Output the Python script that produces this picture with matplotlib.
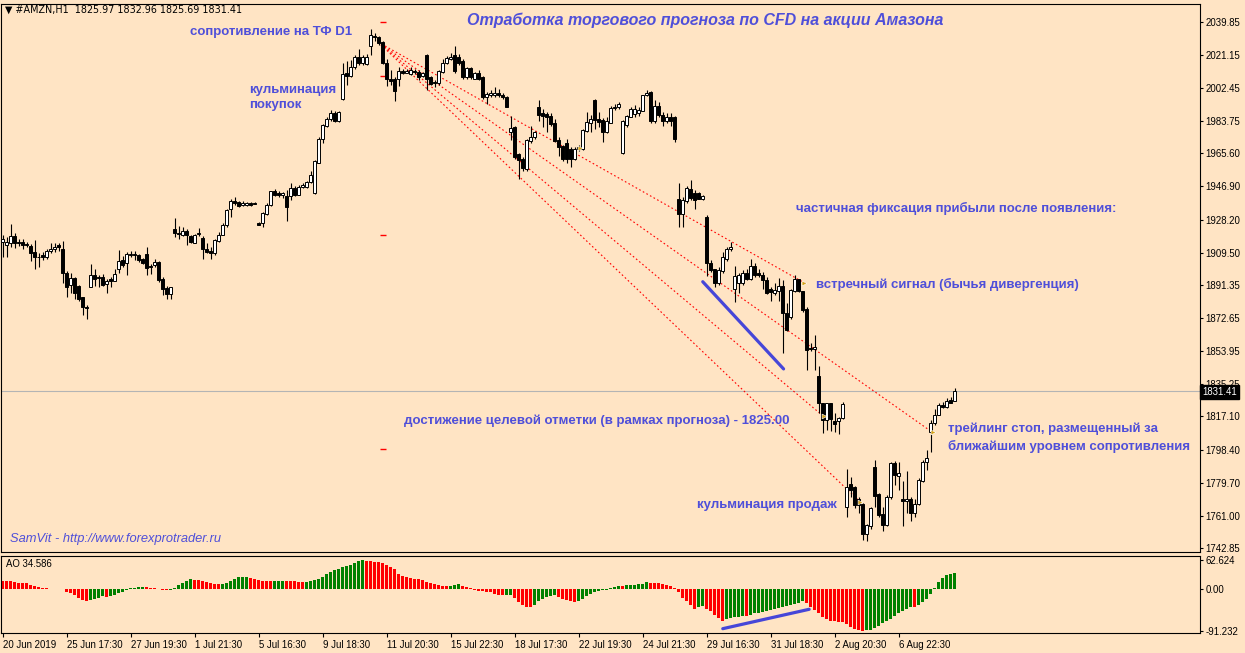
import matplotlib
matplotlib.use('Agg')
import matplotlib.pyplot as plt
import numpy as np

# H1 bars, AMZN CFD, 20 Jun - 8 Aug 2019
opens = [1915.5, 1913.6, 1915.1, 1918.9, 1915.7, 1915.5, 1914.4, 1913.3, 1909.9, 1907.2,
         1908.4, 1906.9, 1910.2, 1911.4, 1913.6, 1911.4, 1897.8, 1891.1, 1895.2, 1890.7,
         1884.7, 1879.0, 1890.3, 1896.9, 1895.6, 1895.6, 1891.6, 1894.4, 1893.7, 1900.5,
         1905.4, 1903.5, 1908.0, 1908.7, 1908.2, 1905.9, 1908.6, 1902.0, 1902.3, 1904.2,
         1894.8, 1889.6, 1886.2, 1922.7, 1920.8, 1919.7, 1921.9, 1918.9, 1915.1, 1920.0,
         1917.8, 1911.8, 1910.6, 1909.5, 1916.3, 1919.7, 1924.9, 1934.3, 1938.5, 1938.1,
         1936.2, 1936.2, 1937.3, 1937.3, 1926.4, 1926.1, 1931.3, 1936.2, 1944.1, 1943.0,
         1942.0, 1941.5, 1941.5, 1946.0, 1942.2, 1946.7, 1946.4, 1949.4, 1943.0, 1960.3,
         1973.5, 1981.0, 1984.7, 1988.5, 1983.6, 1996.0, 2011.1, 2009.2, 2014.1, 2020.1,
         2016.3, 2016.0, 2026.1, 2031.8, 2031.0, 2028.4, 2016.7, 2007.7, 2007.3, 2007.3,
         2011.8, 2011.1, 2010.3, 2012.2, 2011.4, 2009.2, 2021.2, 2008.4, 2005.8, 2005.4,
         2011.5, 2016.7, 2019.0, 2020.9, 2020.1, 2017.5, 2008.4, 2013.7, 2007.7, 2010.7,
         2008.4, 1997.6, 1998.3, 1998.3, 1999.4, 1998.7, 1997.6, 1977.6, 1980.6, 1965.2,
         1962.6, 1956.6, 1972.4, 1974.6, 1991.5, 1988.5, 1987.8, 1986.6, 1982.9, 1973.1,
         1969.7, 1971.6, 1968.2, 1962.6, 1967.8, 1968.2, 1978.4, 1982.9, 1995.7, 1984.8,
         1984.4, 1977.3, 1982.9, 1991.2, 1991.5, 1966.0, 1981.8, 1986.3, 1988.0, 1988.2,
         1989.7, 1998.3, 2000.2, 1983.6, 1992.3, 1987.4, 1983.6, 1986.3, 1986.3, 1939.6,
         1931.4, 1938.8, 1945.6, 1943.4, 1943.0, 1940.0, 1929.9, 1903.9, 1900.2, 1892.2,
         1899.0, 1905.7, 1911.4, 1889.2, 1892.6, 1892.6, 1898.2, 1894.8, 1902.0, 1898.2,
         1897.1, 1894.1, 1888.8, 1886.9, 1888.1, 1890.7, 1875.7, 1873.0, 1888.1, 1894.5,
         1887.7, 1877.9, 1855.7, 1855.3, 1839.9, 1824.5, 1815.1, 1824.5, 1814.7, 1814.3,
         1816.2, 1765.8, 1779.0, 1777.1, 1770.7, 1767.7, 1750.8, 1755.3, 1788.7, 1773.3,
         1762.0, 1756.0, 1771.4, 1790.6, 1783.5, 1770.7, 1769.6, 1770.7, 1762.4, 1767.7,
         1780.8, 1791.4, 1808.3, 1813.2, 1818.1, 1823.7, 1822.2, 1826.4, 1825.97]
highs = [1919.5, 1918.1, 1925.7, 1920.4, 1917.4, 1917.0, 1915.5, 1914.4, 1916.6, 1909.5,
         1910.1, 1911.4, 1914.8, 1914.8, 1914.8, 1916.1, 1899.3, 1897.8, 1896.0, 1891.2,
         1884.7, 1880.0, 1903.1, 1900.3, 1896.9, 1897.3, 1894.8, 1895.6, 1900.5, 1911.0,
         1907.6, 1910.1, 1910.6, 1910.2, 1908.7, 1906.7, 1912.5, 1903.1, 1905.7, 1904.6,
         1895.6, 1890.7, 1890.3, 1929.1, 1924.5, 1924.2, 1922.7, 1919.7, 1920.0, 1923.2,
         1918.9, 1915.1, 1912.9, 1917.0, 1921.3, 1926.4, 1934.3, 1940.0, 1941.1, 1938.8,
         1938.8, 1938.3, 1938.1, 1938.1, 1927.0, 1932.6, 1937.7, 1944.5, 1945.2, 1944.5,
         1943.7, 1944.9, 1949.0, 1947.1, 1947.9, 1949.0, 1949.8, 1955.4, 1961.8, 1974.6,
         1982.1, 1985.9, 1990.0, 1989.6, 1989.3, 2016.3, 2017.5, 2018.2, 2020.9, 2024.2,
         2021.2, 2021.6, 2035.5, 2033.3, 2031.8, 2029.1, 2018.6, 2012.6, 2008.8, 2014.1,
         2013.3, 2013.0, 2014.1, 2013.3, 2012.6, 2011.4, 2021.6, 2009.2, 2006.9, 2012.6,
         2019.0, 2020.5, 2022.4, 2026.1, 2021.6, 2018.6, 2014.5, 2014.5, 2011.4, 2012.6,
         2009.2, 2000.2, 2001.3, 2002.8, 2001.7, 1999.4, 1997.9, 1986.6, 1981.0, 1966.0,
         1963.7, 1973.9, 1981.0, 1978.4, 1995.7, 1990.4, 1988.9, 1988.2, 1984.8, 1975.0,
         1970.1, 1973.9, 1969.3, 1969.3, 1970.1, 1979.1, 1988.9, 1987.4, 1996.1, 1988.9,
         1985.2, 1985.9, 1992.3, 1993.4, 1994.6, 1984.4, 1987.4, 1991.9, 1992.7, 1991.9,
         1998.7, 2001.3, 2000.6, 1995.7, 1994.6, 1988.9, 1988.2, 1988.2, 1986.6, 1948.6,
         1940.7, 1947.1, 1950.5, 1944.9, 1943.8, 1942.3, 1930.6, 1905.4, 1900.5, 1901.3,
         1909.6, 1912.5, 1915.5, 1902.0, 1898.2, 1899.7, 1900.5, 1906.1, 1903.5, 1900.1,
         1898.6, 1895.6, 1890.3, 1892.2, 1895.2, 1894.1, 1880.9, 1889.2, 1897.1, 1894.8,
         1888.1, 1878.7, 1858.3, 1862.9, 1845.6, 1824.9, 1824.9, 1824.9, 1819.2, 1817.0,
         1825.2, 1787.2, 1782.7, 1777.8, 1771.8, 1768.4, 1756.4, 1766.2, 1792.5, 1774.1,
         1766.2, 1772.6, 1791.4, 1792.1, 1791.4, 1780.8, 1786.1, 1771.8, 1770.3, 1782.4,
         1792.5, 1798.2, 1815.1, 1821.5, 1824.5, 1825.2, 1827.5, 1827.9, 1832.96]
lows = [1907.2, 1907.2, 1912.5, 1911.9, 1913.3, 1911.4, 1912.9, 1905.0, 1900.5, 1901.6,
        1905.4, 1906.1, 1909.5, 1909.9, 1910.6, 1892.2, 1884.3, 1886.5, 1883.5, 1882.4,
        1874.1, 1871.9, 1890.3, 1890.7, 1889.9, 1890.7, 1886.5, 1889.9, 1893.7, 1898.2,
        1901.2, 1897.1, 1907.2, 1905.4, 1904.4, 1903.1, 1897.1, 1897.5, 1901.2, 1892.9,
        1885.4, 1883.5, 1883.5, 1918.5, 1917.4, 1918.9, 1913.6, 1914.8, 1914.8, 1918.9,
        1905.7, 1909.5, 1906.1, 1908.0, 1915.5, 1919.3, 1924.2, 1929.4, 1936.6, 1935.1,
        1935.8, 1935.8, 1935.8, 1936.8, 1924.9, 1924.2, 1930.6, 1935.8, 1941.5, 1941.1,
        1940.4, 1927.6, 1939.2, 1941.5, 1941.9, 1946.0, 1946.0, 1948.6, 1942.6, 1959.9,
        1971.6, 1980.6, 1984.0, 1983.2, 1983.2, 1995.7, 2003.9, 2008.8, 2013.3, 2015.2,
        2015.6, 2015.2, 2020.9, 2028.8, 2026.5, 2016.0, 2003.6, 2003.9, 1994.9, 2003.6,
        2010.3, 2010.7, 2009.6, 2010.3, 2006.9, 2008.8, 2001.3, 2003.9, 2003.2, 2004.3,
        2011.1, 2016.0, 2018.2, 2010.7, 2015.2, 2007.3, 2007.7, 2007.3, 2007.3, 2006.9,
        1996.4, 1993.4, 1997.6, 1997.6, 1997.2, 1996.4, 1991.5, 1973.1, 1962.2, 1950.9,
        1955.8, 1955.8, 1971.2, 1973.9, 1984.0, 1980.6, 1977.6, 1981.0, 1972.0, 1964.1,
        1961.1, 1960.3, 1957.7, 1961.8, 1967.0, 1967.5, 1977.6, 1977.3, 1979.5, 1980.6,
        1972.0, 1976.9, 1982.5, 1990.0, 1990.8, 1965.2, 1980.6, 1985.9, 1986.3, 1986.6,
        1989.3, 1997.9, 1982.9, 1982.9, 1985.9, 1981.0, 1982.5, 1981.0, 1972.0, 1923.8,
        1923.8, 1937.3, 1939.2, 1934.4, 1939.6, 1939.2, 1896.4, 1898.6, 1890.0, 1891.5,
        1898.2, 1905.0, 1910.6, 1881.7, 1886.9, 1891.5, 1894.1, 1894.1, 1896.0, 1896.0,
        1889.2, 1886.2, 1882.4, 1885.4, 1882.4, 1853.1, 1865.1, 1872.3, 1887.3, 1887.3,
        1876.0, 1843.3, 1854.2, 1843.3, 1819.2, 1807.9, 1809.4, 1809.1, 1808.3, 1807.2,
        1815.8, 1760.2, 1771.8, 1765.4, 1762.4, 1747.4, 1747.0, 1753.8, 1766.0, 1760.2,
        1752.3, 1755.3, 1770.7, 1778.6, 1775.6, 1755.3, 1762.8, 1757.9, 1760.5, 1766.9,
        1780.1, 1786.9, 1797.0, 1812.4, 1817.7, 1821.9, 1821.9, 1824.5, 1825.69]
closes = [1917.0, 1915.5, 1918.9, 1915.1, 1914.8, 1913.8, 1913.8, 1909.1, 1907.2, 1906.9,
          1906.9, 1910.6, 1911.8, 1912.9, 1912.5, 1898.2, 1889.9, 1895.2, 1886.9, 1883.5,
          1879.0, 1878.1, 1897.1, 1894.8, 1895.0, 1891.1, 1893.5, 1893.7, 1897.5, 1904.6,
          1902.7, 1908.7, 1908.7, 1908.0, 1905.4, 1903.5, 1901.0, 1901.2, 1904.2, 1894.1,
          1889.2, 1886.2, 1889.9, 1920.4, 1920.0, 1921.9, 1919.3, 1915.5, 1919.7, 1920.8,
          1911.4, 1909.9, 1909.1, 1916.6, 1919.3, 1924.9, 1933.6, 1938.5, 1937.7, 1935.8,
          1937.7, 1937.3, 1936.4, 1936.8, 1925.3, 1932.1, 1936.2, 1944.1, 1942.2, 1942.2,
          1943.0, 1935.1, 1946.0, 1942.2, 1946.7, 1947.9, 1949.4, 1953.1, 1961.4, 1973.8,
          1981.4, 1984.7, 1988.1, 1984.0, 1988.9, 2010.3, 2009.2, 2014.1, 2020.1, 2016.7,
          2019.7, 2020.1, 2032.1, 2031.0, 2028.0, 2016.7, 2007.3, 2006.6, 2000.9, 2011.8,
          2011.1, 2011.8, 2012.6, 2011.4, 2008.4, 2010.7, 2007.7, 2004.7, 2005.1, 2011.8,
          2016.3, 2019.4, 2020.1, 2011.8, 2016.7, 2008.4, 2013.7, 2008.4, 2010.7, 2007.7,
          1997.5, 1999.1, 1999.8, 1999.8, 1998.7, 1997.2, 1991.9, 1979.9, 1963.3, 1961.8,
          1957.3, 1973.1, 1975.0, 1977.3, 1987.4, 1986.6, 1986.3, 1982.1, 1972.7, 1969.0,
          1962.2, 1962.6, 1962.6, 1967.8, 1969.0, 1978.8, 1983.3, 1984.8, 1984.4, 1983.3,
          1977.3, 1983.6, 1991.2, 1991.9, 1993.4, 1983.6, 1986.6, 1990.4, 1990.4, 1990.0,
          1998.3, 1999.8, 1983.6, 1992.3, 1987.0, 1983.6, 1986.3, 1983.6, 1973.5, 1931.4,
          1939.2, 1946.0, 1940.4, 1939.2, 1940.0, 1941.5, 1903.5, 1899.8, 1892.2, 1899.8,
          1907.3, 1911.4, 1912.5, 1896.3, 1896.7, 1897.8, 1894.8, 1902.0, 1896.7, 1897.1,
          1894.1, 1886.9, 1887.3, 1888.4, 1890.7, 1875.7, 1865.9, 1888.4, 1894.5, 1888.1,
          1877.2, 1854.6, 1855.3, 1856.1, 1824.5, 1815.1, 1824.5, 1815.5, 1812.8, 1816.2,
          1824.1, 1777.5, 1775.6, 1766.9, 1766.9, 1750.8, 1755.6, 1765.4, 1772.0, 1761.7,
          1756.0, 1771.8, 1790.6, 1783.9, 1785.4, 1769.6, 1770.7, 1762.4, 1767.7, 1781.2,
          1791.4, 1793.6, 1813.6, 1817.7, 1823.4, 1822.6, 1825.6, 1824.9, 1831.41]

# Awesome Oscillator, one value per bar
ao = [17.5, 17.2, 16.9, 15.4, 12.4, 12.0, 11.7, 8.0, 5.1, 3.6,
      2.2, 0.8, 0.3, 0.1, 0.4, 0.6, -6.6, -9.5, -13.9, -19.7,
      -24.1, -25.6, -24.8, -22.6, -19.7, -16.1, -16.8, -14.6, -12.4, -9.5,
      -6.6, -3.6, 0.7, 2.2, 2.9, 3.6, 2.9, 2.2, 0.8, -1.5,
      -2.9, -3.6, -2.2, 1.5, 7.3, 12.4, 17.5, 21.2, 19.7, 18.2,
      16.8, 13.9, 12.4, 10.9, 9.5, 10.2, 13.1, 17.5, 21.9, 24.8,
      25.6, 26.3, 24.1, 21.2, 18.2, 16.8, 16.4, 16.1, 16.5, 17.2,
      17.5, 17.2, 16.8, 16.1, 14.6, 14.2, 15.3, 17.5, 19.0, 21.9,
      26.3, 32.1, 36.5, 40.9, 43.8, 46.7, 49.6, 52.6, 55.5, 60.0,
      62.624, 61.3, 61.0, 59.1, 57.7, 56.2, 52.6, 46.7, 42.3, 32.1,
      27.7, 24.8, 23.4, 21.9, 21.5, 18.2, 15.3, 12.4, 9.5, 8.0,
      6.6, 5.1, 6.6, 8.0, 9.5, 6.6, 3.6, 2.2, -2.2, -5.1,
      -5.5, -6.6, -8.0, -10.9, -12.4, -13.9, -13.1, -12.8, -19.7, -28.5,
      -35.8, -38.7, -39.1, -35.8, -27.0, -22.6, -18.2, -15.3, -13.9, -16.8,
      -21.2, -24.1, -27.0, -28.5, -25.6, -21.2, -15.3, -10.9, -8.0, -5.1,
      -3.6, -2.2, 0.7, 3.6, 6.6, 5.8, 7.3, 7.6, 8.0, 9.5,
      10.9, 13.9, 12.4, 12.0, 11.7, 9.5, 8.0, 6.6, 2.2, -8.0,
      -19.7, -27.0, -34.3, -43.1, -40.2, -37.2, -43.1, -48.9, -56.2, -63.5,
      -69.4, -66.4, -63.5, -62.1, -60.6, -58.4, -59.1, -56.2, -53.3, -51.8,
      -50.4, -47.5, -46.0, -43.1, -41.6, -38.7, -37.2, -34.3, -32.9, -29.9,
      -27.0, -31.4, -38.7, -46.0, -53.3, -60.6, -66.4, -69.4, -70.8, -71.5,
      -72.3, -76.6, -82.5, -86.9, -89.8, -91.232, -90.5, -89.8, -85.4, -81.0,
      -75.2, -69.4, -65.0, -59.1, -53.3, -47.5, -43.1, -38.7, -40.2, -35.0,
      -29.2, -21.9, -11.7, 1.5, 14.6, 23.4, 29.2, 32.1, 34.586]

time_labels = ['20 Jun 2019', '25 Jun 17:30', '27 Jun 19:30', '1 Jul 21:30', '5 Jul 16:30',
               '9 Jul 18:30', '11 Jul 20:30', '15 Jul 22:30', '18 Jul 17:30', '22 Jul 19:30',
               '24 Jul 21:30', '29 Jul 16:30', '31 Jul 18:30', '2 Aug 20:30', '6 Aug 22:30']
time_label_bars = [0, 16, 32, 48, 64, 80, 96, 112, 128, 144, 160, 176, 192, 208, 224]

price_ticks = [2039.85, 2021.15, 2002.45, 1983.75, 1965.60, 1946.90, 1928.20, 1909.50,
               1891.35, 1872.65, 1853.95, 1835.25, 1817.10, 1798.40, 1779.70, 1761.00, 1742.85]
ao_ticks = [62.624, 0.0, -91.232]
ao_tick_labels = ['62.624', '0.00', '-91.232']
last_price = 1831.41

# red dotted trend lines: (bar, price) -> (bar, price)
fan_x0 = [93.8, 93.8, 93.8, 93.8]
fan_y0 = [2028.4, 2028.4, 2028.4, 2028.4]
fan_x1 = [200.6, 232.3, 205.1, 214.3]
fan_y1 = [1892.2, 1808.3, 1817.3, 1769.0]
# small red level dashes near the top
level_marks = [2039.8, 2009.2, 1919.5, 1798.7]
# orange price-label marks
mark_x = [144.3, 200.4, 205.2, 214.3, 232.5]
mark_y = [1968.6, 1892.6, 1817.3, 1769.0, 1808.5]
# divergence lines
div_price_x = [175.0, 195.2]
div_price_y = [1893.1, 1843.9]
div_ao_x = [180.0, 201.6]
div_ao_y = [-86.8, -44.6]

BG = '#FFE4C4'
BLUE = '#4F4FD9'
W, H = 1245, 653
AXFONT = 'Liberation Sans'
AXSIZE = 6.9

fig = plt.figure(figsize=(W / 100, H / 100), dpi=100, facecolor=BG)
ax = fig.add_axes([1 / W, 101 / H, 1199 / W, 548 / H], facecolor=BG)
ax2 = fig.add_axes([1 / W, 20 / H, 1199 / W, 77 / H], facecolor=BG)

x = np.arange(len(closes))
o = np.array(opens)
c = np.array(closes)
hi = np.array(highs)
lo = np.array(lows)
up = c >= o
body_lo = np.minimum(o, c)
body_h = np.maximum(np.abs(c - o), 0.4)

ax.vlines(x, lo, hi, color='black', linewidth=0.8, zorder=2)
ax.bar(x[up], body_h[up], bottom=body_lo[up], width=0.7, facecolor='white',
       edgecolor='black', linewidth=0.7, zorder=3)
ax.bar(x[~up], body_h[~up], bottom=body_lo[~up], width=0.7, facecolor='black',
       edgecolor='black', linewidth=0.7, zorder=3)

for xa, ya, xb, yb in zip(fan_x0, fan_y0, fan_x1, fan_y1):
    ax.plot([xa, xb], [ya, yb], color='red', linewidth=0.8, linestyle=(0, (1.5, 2.2)), zorder=1)
ax.hlines(level_marks, 94.3, 95.9, color='red', linewidth=1.0)
ax.plot(mark_x, mark_y, linestyle='none', marker='>', markersize=3.5, color='#D4A017',
        markeredgecolor='white', markeredgewidth=0.4, zorder=4)
ax.plot(div_price_x, div_price_y, color='#4646D8', linewidth=2.3, solid_capstyle='round', zorder=4)
ax.axhline(last_price, color='#B4B4B4', linewidth=0.8, zorder=0)

ax.set_xlim(-0.425, 299.3)
ax.set_ylim(1740.6, 2049.8)
ax.yaxis.tick_right()
ax.set_yticks(price_ticks)
ax.set_yticklabels(['%.2f' % v for v in price_ticks], fontsize=AXSIZE, family=AXFONT)
ax.tick_params(axis='y', direction='out', length=2.5, width=0.8, pad=1.5)
ax.set_xticks([])

# AO histogram
aov = np.array(ao)
colors = []
state = 'red'
for i in range(len(aov)):
    if i > 0 and aov[i] > aov[i - 1]:
        state = 'green'
    elif i > 0 and aov[i] < aov[i - 1]:
        state = 'red'
    colors.append('#008000' if state == 'green' else '#FF0000')
ax2.bar(x, aov, width=0.75, color=colors, linewidth=0)
ax2.plot(div_ao_x, div_ao_y, color='#4646D8', linewidth=2.3, solid_capstyle='round')
ax2.set_xlim(-0.425, 299.3)
ax2.set_ylim(-96.2, 71.4)
ax2.yaxis.tick_right()
ax2.set_yticks(ao_ticks)
ax2.set_yticklabels(ao_tick_labels, fontsize=AXSIZE, family=AXFONT)
ax2.tick_params(axis='y', direction='out', length=2.5, width=0.8, pad=1.5)
ax2.set_xticks(time_label_bars)
ax2.set_xticklabels(time_labels, fontsize=AXSIZE, family=AXFONT, ha='left')
ax2.tick_params(axis='x', direction='out', length=3, width=0.8, pad=2)

for a in (ax, ax2):
    for s in a.spines.values():
        s.set_linewidth(0.8)
        s.set_color('black')


def ftext(px, py, s, **kw):
    fig.text(px / W, 1 - py / H, s, va='center', **kw)


ftext(5, 10, '\u25bc #AMZN,H1  1825.97 1832.96 1825.69 1831.41', fontsize=AXSIZE,
      family=['DejaVu Sans'], color='black')
ftext(6, 564, 'AO 34.586', fontsize=AXSIZE, family=AXFONT, color='black')
ftext(1202, 392, '1831.41', fontsize=AXSIZE, family=AXFONT, color='white',
      bbox=dict(boxstyle='square,pad=0.25', facecolor='black', edgecolor='black'), zorder=10)

ann = dict(fontsize=9.5, family='Liberation Sans', fontweight='bold', color=BLUE)
fig.text(705 / W, 1 - 20 / H, 'Отработка торгового прогноза по CFD на акции Амазона',
         ha='center', va='center', fontsize=11.5, family='Liberation Sans', fontweight='bold',
         style='italic', color=BLUE)
ftext(190, 32, 'сопротивление на ТФ D1', **ann)
ftext(249, 90, 'кульминация', **ann)
ftext(249, 105, 'покупок', **ann)
ftext(796, 208, 'частичная фиксация прибыли после появления:', **ann)
ftext(816, 284, 'встречный сигнал (бычья дивергенция)', **ann)
ftext(404, 421, 'достижение целевой отметки (в рамках прогноза) - 1825.00', **ann)
ftext(948, 429, 'трейлинг стоп, размещенный за', **ann)
ftext(948, 446, 'ближайшим уровнем сопротивления', **ann)
ftext(697, 505, 'кульминация продаж', **ann)
ftext(10, 539, 'SamVit - http://www.forexprotrader.ru', fontsize=9.3, family='Liberation Sans',
      style='italic', color=BLUE)

fig.savefig('out.png', dpi=100, facecolor=BG)
